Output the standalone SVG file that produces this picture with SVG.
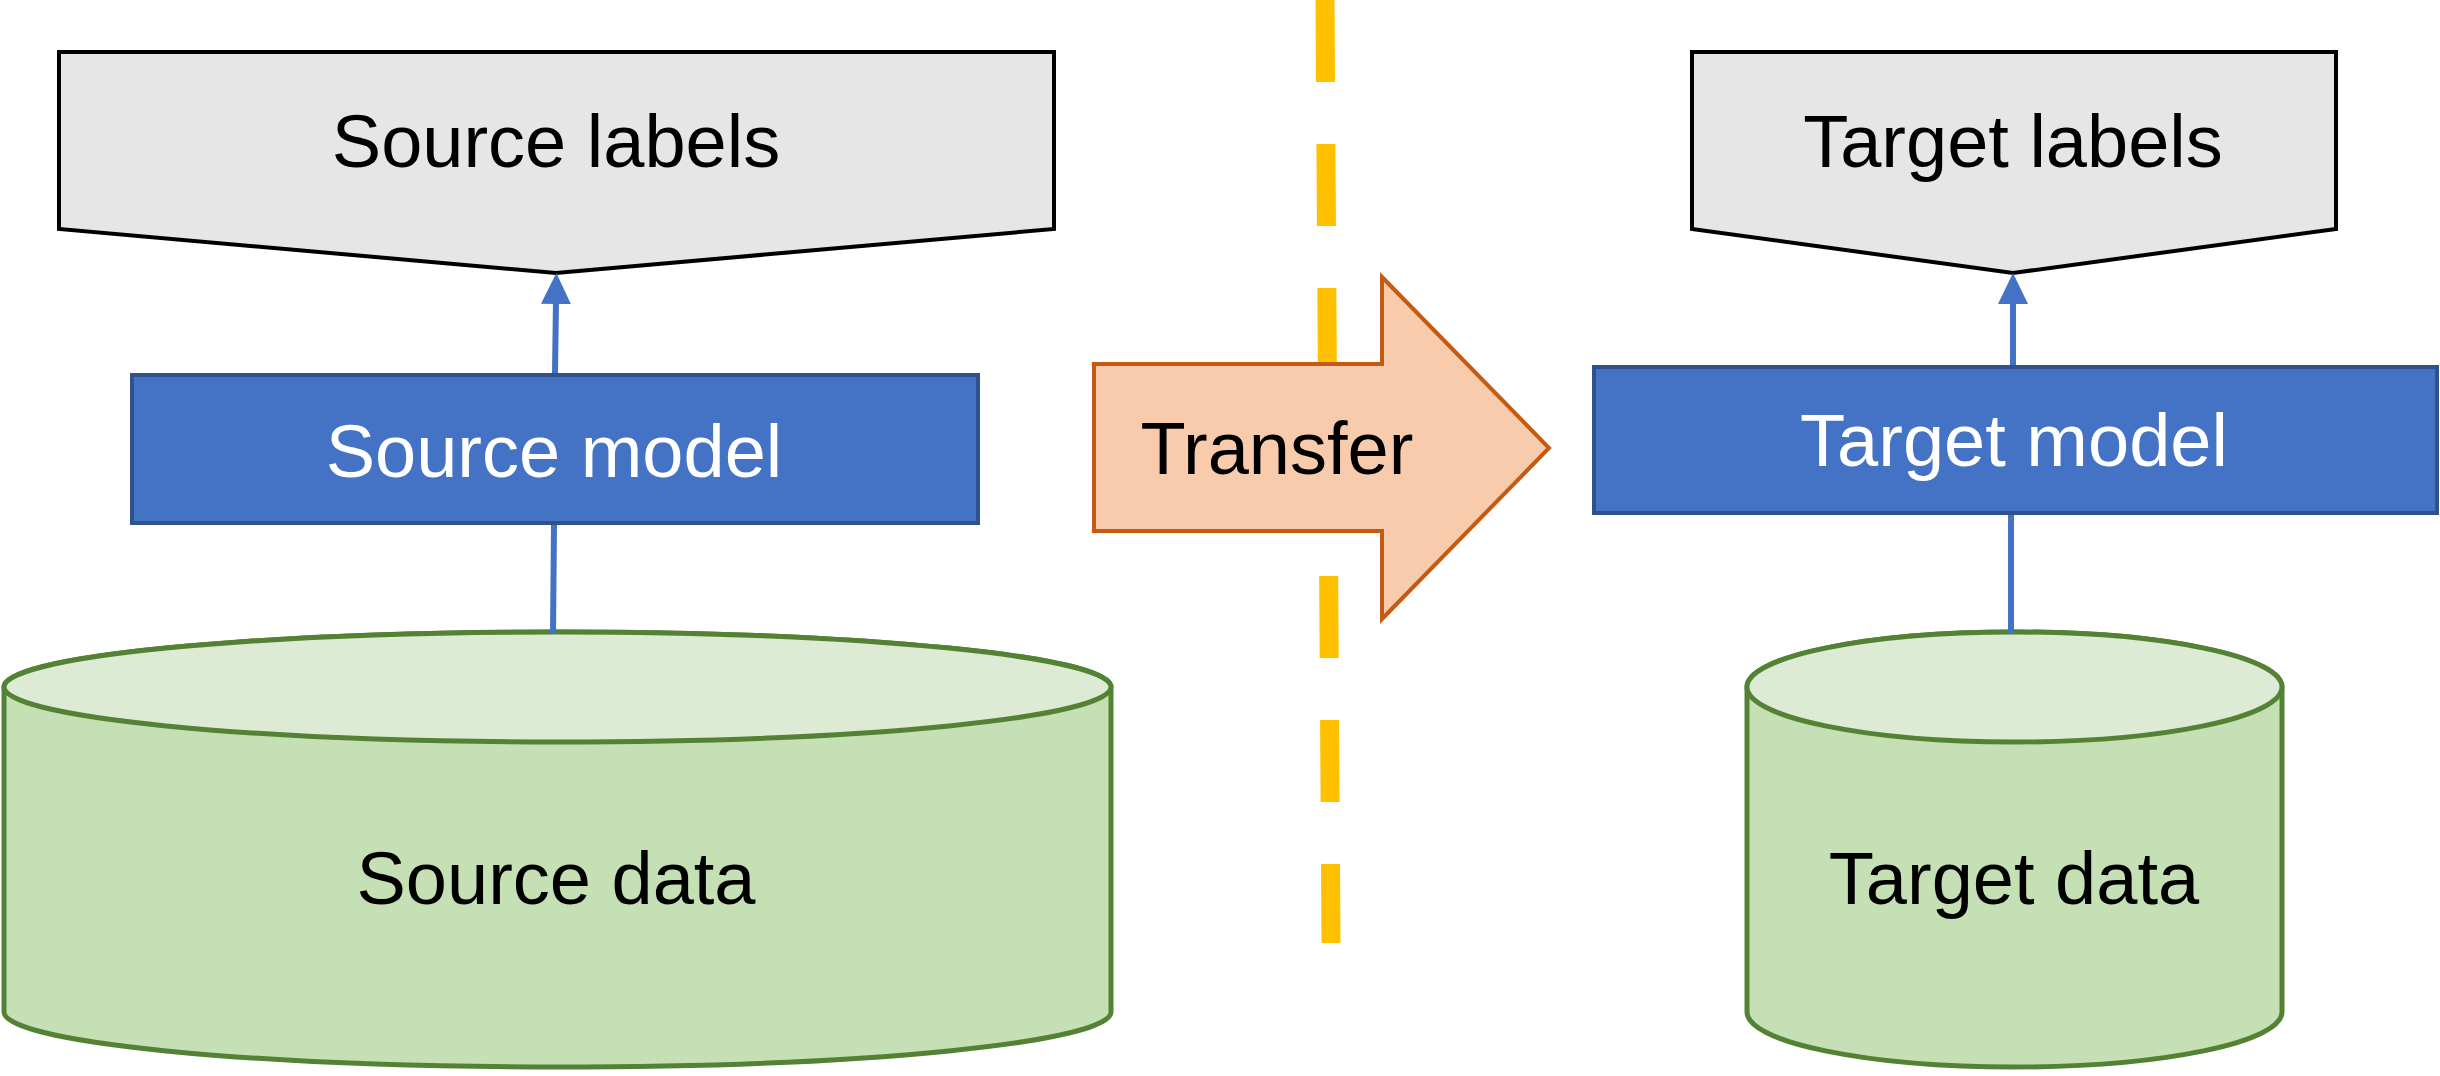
<svg xmlns="http://www.w3.org/2000/svg" width="2440" height="1076" viewBox="0 0 2440 1076">
<style>
text{font-family:"Liberation Sans",Arial,sans-serif;font-size:74px;text-anchor:middle;fill:#000}
text.wt{fill:#fff}
.lbl{fill:#E7E6E6;stroke:#000;stroke-width:4}
.model{fill:#4472C4;stroke:#2F528F;stroke-width:4}
.cylbody{fill:#C5E0B4;stroke:#548235;stroke-width:5}
.cyltop{fill:#DDEBD5;stroke:#548235;stroke-width:5}
.conn{stroke:#4472C4;stroke-width:6;fill:none}
</style>
<defs>
<marker id="ah" markerUnits="userSpaceOnUse" markerWidth="31" markerHeight="30" viewBox="0 0 31 30" refX="4" refY="15" orient="auto">
<path d="M0,0 L31,15 L0,30 Z" fill="#4472C4"/>
</marker>
</defs>
<g id="divider">
<line x1="1325" y1="0" x2="1331" y2="943" stroke="#FFC000" stroke-width="19" stroke-dasharray="82 62"/>
</g>
<g id="source-labels">
<path class="lbl" d="M59,52 H1054 V229 L556,273 L59,229 Z"/>
<text x="556" y="167">Source labels</text>
</g>
<g id="source-model">
<rect class="model" x="132" y="375" width="846" height="148"/>
<text class="wt" x="554" y="477">Source model</text>
</g>
<g id="source-data">
<path class="cylbody" d="M4,687 L4,1012 A553.5,55 0 0 0 1111,1012 L1111,687 A553.5,55 0 0 0 4,687 Z"/>
<ellipse class="cyltop" cx="557.5" cy="687" rx="553.5" ry="55"/>
<text x="556" y="904">Source data</text>
</g>
<g id="transfer">
<path d="M1094,364 H1382 V277 L1549,448 L1382,619 V531 H1094 Z" fill="#F8CBAD" stroke="#C55A11" stroke-width="4"/>
<text x="1277" y="474">Transfer</text>
</g>
<g id="target-labels">
<path class="lbl" d="M1692,52 H2336 V229 L2013,273 L1692,229 Z"/>
<text x="2013" y="167">Target labels</text>
</g>
<g id="target-model">
<rect class="model" x="1594" y="367" width="843" height="146"/>
<text class="wt" x="2014" y="466">Target model</text>
</g>
<g id="target-data">
<path class="cylbody" d="M1747,687 L1747,1012 A267.5,55 0 0 0 2282,1012 L2282,687 A267.5,55 0 0 0 1747,687 Z"/>
<ellipse class="cyltop" cx="2014.5" cy="687" rx="267.5" ry="55"/>
<text x="2014" y="904">Target data</text>
</g>
<g id="connectors">
<line class="conn" x1="553" y1="634" x2="554" y2="525"/>
<line class="conn" x1="555" y1="373" x2="556" y2="300" marker-end="url(#ah)"/>
<line class="conn" x1="2011" y1="633" x2="2011" y2="515"/>
<line class="conn" x1="2013" y1="365" x2="2013" y2="300" marker-end="url(#ah)"/>
</g>
</svg>
